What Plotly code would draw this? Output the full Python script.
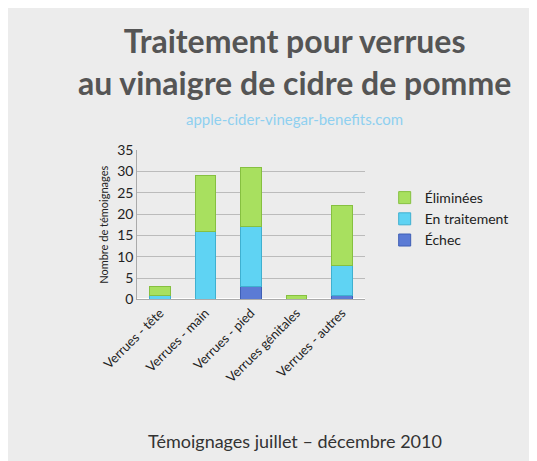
import plotly.graph_objects as go

categories = ["Verrues - tête", "Verrues - main", "Verrues - pied", "Verrues génitales", "Verrues - autres"]
echec = [0, 0, 3, 0, 1]
en_traitement = [1, 16, 14, 0, 7]
eliminees = [2, 13, 14, 1, 14]

fig = go.Figure()
fig.add_bar(x=categories, y=echec, name="Échec", marker_color="#5b7bd5", marker_line=dict(color="#3f5fb5", width=1))
fig.add_bar(x=categories, y=en_traitement, name="En traitement", marker_color="#5fd3f3", marker_line=dict(color="#3fb0d0", width=1))
fig.add_bar(x=categories, y=eliminees, name="Éliminées", marker_color="#a8e05f", marker_line=dict(color="#86c040", width=1))

fig.update_layout(
    width=537, height=461, barmode="stack", bargap=0.55,
    paper_bgcolor="#ececec", plot_bgcolor="rgba(0,0,0,0)",
    margin=dict(l=0, r=0, t=0, b=0),
    font=dict(family="Lato", color="#222"),
    xaxis=dict(domain=[0.186, 0.64], tickangle=-45, tickfont=dict(size=13), showline=True, linecolor="#aaa"),
    yaxis=dict(domain=[0.364, 0.70], range=[0, 35], dtick=5, tickfont=dict(size=14),
               gridcolor="#bbb", showline=True, linecolor="#aaa",
               title=dict(text="Nombre de témoignages", font=dict(size=11), standoff=6)),
    legend=dict(x=0.68, y=0.545, yanchor="middle", traceorder="reversed", font=dict(size=14),
                bgcolor="rgba(0,0,0,0)", itemwidth=30),
    annotations=[
        dict(text="<b>Traitement pour verrues<br>au vinaigre de cidre de pomme</b>", x=0.5, y=0.995, xref="paper", yref="paper",
             xanchor="center", yanchor="top", showarrow=False, font=dict(size=32, color="#555", family="Lato")),
        dict(text="apple-cider-vinegar-benefits.com", x=0.5, y=0.77, xref="paper", yref="paper",
             xanchor="center", yanchor="middle", showarrow=False, font=dict(size=15, color="#8fd0f0")),
        dict(text="Témoignages juillet – décembre 2010", x=0.5, y=0.045, xref="paper", yref="paper",
             xanchor="center", yanchor="middle", showarrow=False, font=dict(size=18, color="#333")),
    ],
)
fig.write_html("out.html")
